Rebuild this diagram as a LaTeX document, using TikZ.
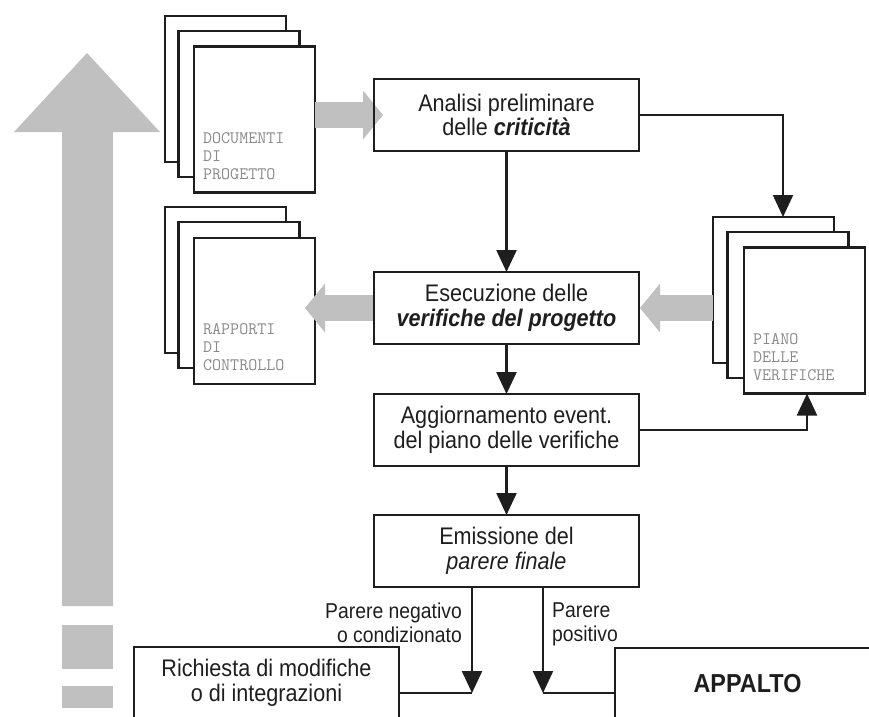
\documentclass[tikz,border=0pt]{standalone}
\usepackage{fontspec}
\setmainfont{Liberation Sans}[FakeStretch=0.9]
\usetikzlibrary{arrows.meta,calc}
\definecolor{greyfill}{HTML}{C0C0C0}
\definecolor{doctext}{HTML}{8A8A8A}
\definecolor{ink}{HTML}{1E1E1E}
\begin{document}
\begin{tikzpicture}[x=1pt,y=-1pt,
  stepbox/.style={draw=ink,line width=2.2pt,minimum width=265pt,minimum height=72pt,
    inner sep=0pt,outer sep=0pt,align=center,text=ink,font=\fontsize{24}{24.5}\selectfont},
  sheet/.style={draw=ink,fill=white,line width=2.2pt,minimum width=121pt,minimum height=146pt,
    inner sep=0pt,outer sep=0pt},
  sheettext/.style={anchor=north west,inner sep=0pt,align=left,text=doctext,
    font=\ttfamily\fontsize{17.5}{18}\selectfont},
  conn/.style={draw=ink,line width=2.2pt,-{Triangle[width=20pt,length=22pt]}},
  plain/.style={draw=ink,line width=2.2pt},
  fat/.style={draw=greyfill,line width=26pt,-{Triangle[width=49pt,length=20pt,line width=0pt]}},
  lab/.style={inner sep=0pt,text=ink,font=\fontsize{21.5}{24}\selectfont}
]
\useasboundingbox (0,0) rectangle (869,716);
\clip (0,0) rectangle (869,716);

% large upward arrow with its broken tail
\fill[greyfill] (62,606) -- (62,132) -- (14,132) -- (87,53) -- (160,132) -- (113,132) -- (113,606) -- cycle;
\fill[greyfill] (62,625) rectangle (113,669);
\fill[greyfill] (62,686) rectangle (113,708);

% document stacks
\node[sheet] (docA) at (225.5,89) {};
\node[sheet] (docB) at (239,104) {};
\node[sheet] (docC) at (254.5,119.5) {};
\node[sheettext] (doclab) at (203,132) {DOCUMENTI\\DI\\PROGETTO};

\node[sheet] (rapA) at (225.5,280) {};
\node[sheet] (rapB) at (239,295) {};
\node[sheet] (rapC) at (254.5,311) {};
\node[sheettext] (raplab) at (203,323) {RAPPORTI\\DI\\CONTROLLO};

\node[sheet] (pianoA) at (773.5,290) {};
\node[sheet] (pianoB) at (788,305) {};
\node[sheet] (pianoC) at (804.5,320.5) {};
\node[sheettext] (pianolab) at (753,333) {PIANO\\DELLE\\VERIFICHE};

% process boxes
\node[stepbox] (analisi) at (506.5,115) {Analisi preliminare\\delle \textbf{\textit{criticità}}};
\node[stepbox] (esec) at (506.5,308) {Esecuzione delle\\\textbf{\textit{verifiche del progetto}}};
\node[stepbox] (agg) at (506.5,430) {Aggiornamento event.\\del piano delle verifiche};
\node[stepbox] (emis) at (506.5,551) {Emissione del\\\textit{parere finale}};
\node[stepbox] (richiesta) at (266.5,683) {Richiesta di modifiche\\o di integrazioni};
\node[stepbox,font=\bfseries\fontsize{26}{26}\selectfont] (appalto) at (747.5,684) {APPALTO};

% wide grey flow arrows
\draw[fat] (docC.east |- analisi.west) -- ([xshift=9pt]analisi.west);
\draw[fat] (esec.west) -- ([xshift=-10pt]rapC.east |- esec.west);
\draw[fat] (pianoA.west |- esec.east) -- ([xshift=1pt]esec.east);

% redraw box borders over the grey arrows
\foreach \b in {analisi,esec}
  \draw[plain] (\b.north west) rectangle (\b.south east);

% connectors
\draw[conn] (analisi.south) -- (esec.north);
\draw[conn] (esec.south) -- (agg.north);
\draw[conn] (agg.south) -- (emis.north);
\draw[conn] (analisi.east) -| ([xshift=9.5pt]pianoA.north);
\draw[conn] (agg.east) -| ([xshift=2.5pt]pianoC.south);

\coordinate (negjoin) at (472,693);
\coordinate (posjoin) at (543,693);
\draw[conn] (emis.south -| negjoin) -- (negjoin);
\draw[plain] (richiesta.east |- negjoin) -- (negjoin);
\draw[conn] (emis.south -| posjoin) -- (posjoin);
\draw[plain] (posjoin) -- (appalto.west |- posjoin);

% outcome labels
\node[lab,anchor=north east,align=right] (neglab) at (462,602.6) {Parere negativo\\o condizionato};
\node[lab,anchor=north west,align=left] (poslab) at (552,602.6) {Parere\\positivo};
\end{tikzpicture}
\end{document}
